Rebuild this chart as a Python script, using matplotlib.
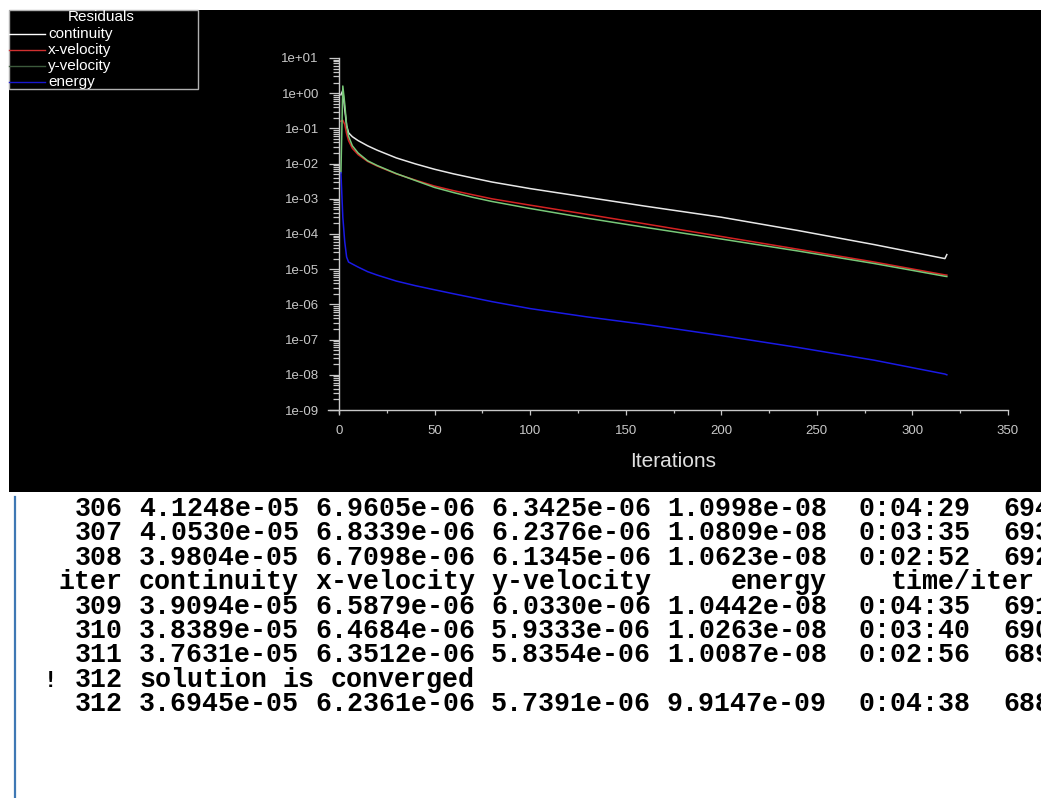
import re
import numpy as np
import matplotlib
matplotlib.use("Agg")
import matplotlib.pyplot as plt
from matplotlib.patches import Rectangle
from matplotlib.lines import Line2D
from matplotlib.ticker import FuncFormatter, MultipleLocator, LogLocator

# residual history (iteration, residual)
iters = [1, 2, 3, 4, 5, 7, 10, 15, 20, 30, 40, 50, 60, 70, 80, 100, 130, 160, 200, 240, 280, 317, 318]
continuity = [0.9, 1.2, 0.35, 0.12, 0.075, 0.058, 0.045, 0.032, 0.024, 0.0145, 0.0098, 0.0069, 0.0051,
              0.0039, 0.003, 0.00195, 0.0011, 0.00062, 0.0003, 0.000126, 5.0e-5, 2.0e-5, 2.6e-5]
x_velocity = [0.16, 0.17, 0.13, 0.07, 0.045, 0.027, 0.018, 0.0115, 0.0085, 0.0051, 0.0034, 0.0023, 0.0017,
              0.0013, 0.001, 6.6e-4, 3.6e-4, 1.95e-4, 8.5e-5, 3.7e-5, 1.6e-5, 6.9e-6, 6.8e-6]
y_velocity = [0.0055, 1.6, 0.5, 0.12, 0.06, 0.032, 0.02, 0.012, 0.0088, 0.0052, 0.0033, 0.0021, 0.0015,
              0.0011, 8.4e-4, 5.3e-4, 2.8e-4, 1.55e-4, 7.2e-5, 3.3e-5, 1.45e-5, 6.3e-6, 6.2e-6]
energy = [5.5e-3, 3e-4, 6e-5, 2.2e-5, 1.6e-5, 1.4e-5, 1.15e-5, 8.5e-6, 6.8e-6, 4.6e-6, 3.4e-6, 2.6e-6, 2.0e-6,
          1.55e-6, 1.2e-6, 7.6e-7, 4.4e-7, 2.7e-7, 1.3e-7, 6.0e-8, 2.6e-8, 1.05e-8, 1.0e-8]

series_names = ["continuity", "x-velocity", "y-velocity", "energy"]
series_colors = ["#e8e8e8", "#d42222", "#78c878", "#1a1ae6"]
legend_colors = ["#ffffff", "#d03030", "#3c5a3c", "#1818d0"]

# console log below the plot
log_iter = [306, 307, 308, 309, 310, 311, 312]
log_cont = [4.1248e-05, 4.0530e-05, 3.9804e-05, 3.9094e-05, 3.8389e-05, 3.7631e-05, 3.6945e-05]
log_xvel = [6.9605e-06, 6.8339e-06, 6.7098e-06, 6.5879e-06, 6.4684e-06, 6.3512e-06, 6.2361e-06]
log_yvel = [6.3425e-06, 6.2376e-06, 6.1345e-06, 6.0330e-06, 5.9333e-06, 5.8354e-06, 5.7391e-06]
log_energy = [1.0998e-08, 1.0809e-08, 1.0623e-08, 1.0442e-08, 1.0263e-08, 1.0087e-08, 9.9147e-09]
log_time = ["0:04:29", "0:03:35", "0:02:52", "0:04:35", "0:03:40", "0:02:56", "0:04:38"]
log_left = [694, 693, 692, 691, 690, 689, 688]

W, H = 1041, 798
def fx(px):
    return px / W
def fy(py):
    return 1 - py / H

fig = plt.figure(figsize=(W / 100, H / 100), dpi=100, facecolor="white")

# black graphics window
fig.add_artist(Rectangle((fx(9), fy(492)), fx(1041) - fx(9), fy(10) - fy(492),
                         transform=fig.transFigure, facecolor="black", edgecolor="none", zorder=0))

grey = "#c8c8c8"
ax = fig.add_axes([fx(339), fy(410), (1008 - 339) / W, (410 - 58) / H])
ax.set_facecolor("black")
ax.set_yscale("log")
ax.set_xlim(0, 350)
ax.set_ylim(1e-9, 1e1)

for vals, col in zip([continuity, x_velocity, y_velocity, energy], series_colors):
    ax.plot(iters, vals, color=col, lw=1.1)

for s in ["top", "right"]:
    ax.spines[s].set_visible(False)
for s in ["left", "bottom"]:
    ax.spines[s].set_color(grey)
    ax.spines[s].set_linewidth(1.0)
ax.spines["bottom"].set_bounds(-5.75, 350)
ax.spines["left"].set_bounds(8.2e-10, 1e1)

ax.xaxis.set_major_locator(MultipleLocator(50))
ax.xaxis.set_minor_locator(MultipleLocator(25))
ax.yaxis.set_major_locator(LogLocator(base=10, numticks=20))
ax.yaxis.set_minor_locator(LogLocator(base=10, subs=np.arange(2, 10), numticks=20))
ax.yaxis.set_major_formatter(FuncFormatter(lambda v, p: f"{v:.0e}"))
ax.tick_params(axis="y", which="major", direction="out", length=7.5, width=0.9, color=grey,
               labelcolor=grey, labelsize=9.5, pad=7)
ax.tick_params(axis="y", which="minor", direction="out", length=4.5, width=0.9, color=grey)
ax.tick_params(axis="x", which="major", direction="out", length=3.5, width=0.9, color=grey,
               labelcolor=grey, labelsize=9.5, pad=7)
ax.tick_params(axis="x", which="minor", direction="out", length=2.2, width=0.9, color=grey)
for lab in ax.get_xticklabels() + ax.get_yticklabels():
    lab.set_fontfamily("Liberation Sans")
ax.set_xlabel("Iterations", color="#e0e0e0", fontsize=15, family="Liberation Sans", labelpad=11)

# legend box in the top left corner
fig.add_artist(Rectangle((fx(9), fy(89)), fx(198) - fx(9), fy(10) - fy(89),
                         transform=fig.transFigure, facecolor="black", edgecolor="#b0b0b0",
                         lw=1.0, zorder=3))
fig.text(fx(101), fy(17), "Residuals", color="white", fontsize=11, family="Liberation Sans",
         ha="center", va="center", zorder=4)
for i, (name, col) in enumerate(zip(series_names, legend_colors)):
    yy = 34 + 16 * i
    fig.add_artist(Line2D([fx(9), fx(45)], [fy(yy), fy(yy)], transform=fig.transFigure,
                          color=col, lw=1.0, zorder=4))
    fig.text(fx(48), fy(yy), name, color="white", fontsize=11, family="Liberation Sans",
             ha="left", va="center", zorder=4)

# console panel
fig.add_artist(Line2D([fx(15), fx(15)], [fy(497), fy(798)], transform=fig.transFigure,
                      color="#3f78b4", lw=1.6))

def num_row(k):
    return " %3d %.4e %.4e %.4e %.4e  %s  %d" % (log_iter[k], log_cont[k], log_xvel[k],
                                              log_yvel[k], log_energy[k], log_time[k], log_left[k])

rows = [num_row(0), num_row(1), num_row(2),
        "iter continuity x-velocity y-velocity     energy    time/iter",
        num_row(3), num_row(4), num_row(5),
        " %3d solution is converged" % log_iter[6],
        num_row(6)]

cell = 16.0   # console character cell in px
x0 = 59
for i, r in enumerate(rows):
    base = 508 + 24.4 * i + 8
    for m in re.finditer(r"\S+", r):
        fig.text(fx(x0 + cell * m.start()), fy(base), m.group(), family="Liberation Mono",
                 fontweight="bold", fontsize=19.2, color="black", ha="left", va="baseline")
    if "solution" in r:
        fig.text(fx(50), fy(base), "!", family="DejaVu Sans Mono", fontweight="bold",
                 fontsize=16, color="black", ha="center", va="baseline")

fig.savefig("out.png", dpi=100, facecolor="white")
